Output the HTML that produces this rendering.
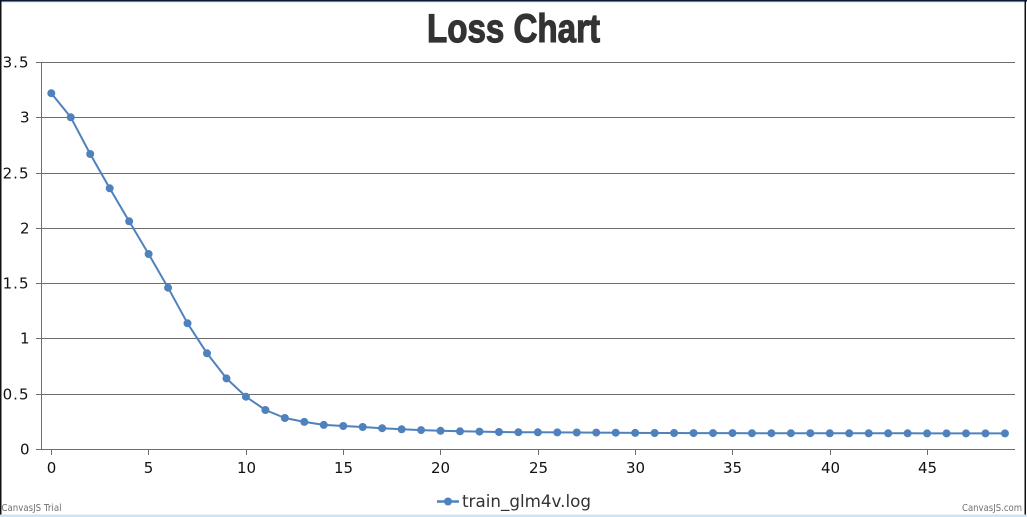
<!DOCTYPE html>
<html>
<head>
<meta charset="utf-8">
<style>
  html, body { margin: 0; padding: 0; background: #ffffff; }
  body { width: 1027px; height: 517px; overflow: hidden; }
  svg { display: block; }
</style>
</head>
<body>
<svg width="1027" height="517" viewBox="0 0 1027 517" xmlns="http://www.w3.org/2000/svg">
  <rect x="0" y="0" width="1027" height="517" fill="#ffffff"/>
  <rect x="0" y="0" width="1027" height="1.5" fill="#0b1a2e"/>
  <rect x="0" y="1.5" width="1027" height="1" fill="#cfe2f5"/>
  <rect x="0" y="0" width="1.5" height="515" fill="#111"/>
  <rect x="1024.5" y="0" width="1.5" height="515" fill="#111"/>
  <rect x="0" y="514.5" width="1027" height="2.5" fill="#cfe3f7"/>

  <text x="513.5" y="42" text-anchor="middle" textLength="173" lengthAdjust="spacingAndGlyphs" font-family="'Liberation Sans Narrow','Liberation Sans',sans-serif" font-weight="bold" font-size="40" fill="#333333" stroke="#333333" stroke-width="1.2">Loss Chart</text>

  <g stroke="#6e6e6e" stroke-width="1" shape-rendering="crispEdges">
    <line x1="41" y1="62.5" x2="1015" y2="62.5"/>
    <line x1="41" y1="117.5" x2="1015" y2="117.5"/>
    <line x1="41" y1="173.5" x2="1015" y2="173.5"/>
    <line x1="41" y1="228.5" x2="1015" y2="228.5"/>
    <line x1="41" y1="283.5" x2="1015" y2="283.5"/>
    <line x1="41" y1="338.5" x2="1015" y2="338.5"/>
    <line x1="41" y1="394.5" x2="1015" y2="394.5"/>
    <line x1="41" y1="449.5" x2="1015" y2="449.5"/>
    <line x1="41.5" y1="62" x2="41.5" y2="450"/>
    <line x1="36" y1="62.5" x2="41" y2="62.5"/>
    <line x1="36" y1="117.5" x2="41" y2="117.5"/>
    <line x1="36" y1="173.5" x2="41" y2="173.5"/>
    <line x1="36" y1="228.5" x2="41" y2="228.5"/>
    <line x1="36" y1="283.5" x2="41" y2="283.5"/>
    <line x1="36" y1="338.5" x2="41" y2="338.5"/>
    <line x1="36" y1="394.5" x2="41" y2="394.5"/>
    <line x1="36" y1="449.5" x2="41" y2="449.5"/>
    <line x1="51.5" y1="450" x2="51.5" y2="455"/>
    <line x1="148.5" y1="450" x2="148.5" y2="455"/>
    <line x1="246.5" y1="450" x2="246.5" y2="455"/>
    <line x1="343.5" y1="450" x2="343.5" y2="455"/>
    <line x1="440.5" y1="450" x2="440.5" y2="455"/>
    <line x1="538.5" y1="450" x2="538.5" y2="455"/>
    <line x1="635.5" y1="450" x2="635.5" y2="455"/>
    <line x1="732.5" y1="450" x2="732.5" y2="455"/>
    <line x1="830.5" y1="450" x2="830.5" y2="455"/>
    <line x1="927.5" y1="450" x2="927.5" y2="455"/>
  </g>

  <g font-family="'DejaVu Sans','Liberation Sans',sans-serif" font-size="15" fill="#111" text-anchor="end">
    <text x="29.5" y="67.5" letter-spacing="1">3.5</text>
    <text x="29.5" y="122.5">3</text>
    <text x="29.5" y="178.5" letter-spacing="1">2.5</text>
    <text x="29.5" y="233.5">2</text>
    <text x="29.5" y="288.5" letter-spacing="1">1.5</text>
    <text x="29.5" y="343.5">1</text>
    <text x="29.5" y="399.5" letter-spacing="1">0.5</text>
    <text x="29.5" y="454.5">0</text>
  </g>

  <g font-family="'DejaVu Sans','Liberation Sans',sans-serif" font-size="15" fill="#111" text-anchor="middle">
    <text x="51.5" y="473">0</text>
    <text x="148.5" y="473">5</text>
    <text x="246.5" y="473">10</text>
    <text x="343.5" y="473">15</text>
    <text x="440.5" y="473">20</text>
    <text x="538.5" y="473">25</text>
    <text x="635.5" y="473">30</text>
    <text x="732.5" y="473">35</text>
    <text x="830.5" y="473">40</text>
    <text x="927.5" y="473">45</text>
  </g>

  <polyline id="series" fill="none" stroke="#4F81BC" stroke-width="2" stroke-linejoin="round" points="51.3,93.2 70.76,117.3 90.22,154 109.69,188.3 129.15,221.3 148.61,254 168.07,287.7 187.53,323.3 207,353.3 226.46,378.4 245.92,396.7 265.38,410 284.84,418 304.31,421.9 323.77,424.9 343.23,426 362.69,427 382.15,428.2 401.62,429.3 421.08,430.1 440.54,430.8 460,431.3 479.46,431.6 498.93,432 518.39,432.2 537.85,432.3 557.31,432.4 576.77,432.5 596.24,432.6 615.7,432.7 635.16,432.9 654.62,433 674.08,433 693.55,433.1 713.01,433.1 732.47,433.1 751.93,433.2 771.39,433.2 790.86,433.2 810.32,433.2 829.78,433.3 849.24,433.3 868.7,433.3 888.17,433.3 907.63,433.3 927.09,433.4 946.55,433.4 966.01,433.4 985.48,433.4 1004.94,433.4"/>
  <g id="markers" fill="#4F81BC"></g>

  <line x1="437" y1="501.5" x2="459" y2="501.5" stroke="#4F81BC" stroke-width="2.5"/>
  <circle cx="448" cy="501.5" r="4" fill="#4F81BC"/>
  <text x="462" y="507" textLength="129" lengthAdjust="spacingAndGlyphs" font-family="'DejaVu Sans','Liberation Sans',sans-serif" font-size="16.5" fill="#333">train_glm4v.log</text>

  <text x="1.5" y="511" font-family="'DejaVu Sans','Liberation Sans',sans-serif" font-size="9.5" fill="#707070" textLength="60" lengthAdjust="spacingAndGlyphs">CanvasJS Trial</text>
  <text x="1022" y="511" text-anchor="end" font-family="'DejaVu Sans','Liberation Sans',sans-serif" font-size="9.5" fill="#707070" textLength="60" lengthAdjust="spacingAndGlyphs">CanvasJS.com</text>
</svg>
<script>
  (function () {
    var ns = "http://www.w3.org/2000/svg";
    var pts = document.getElementById("series").getAttribute("points").trim().split(/\s+/);
    var g = document.getElementById("markers");
    pts.forEach(function (p) {
      var xy = p.split(",");
      var c = document.createElementNS(ns, "circle");
      c.setAttribute("cx", xy[0]);
      c.setAttribute("cy", xy[1]);
      c.setAttribute("r", "4");
      g.appendChild(c);
    });
  })();
</script>
</body>
</html>
